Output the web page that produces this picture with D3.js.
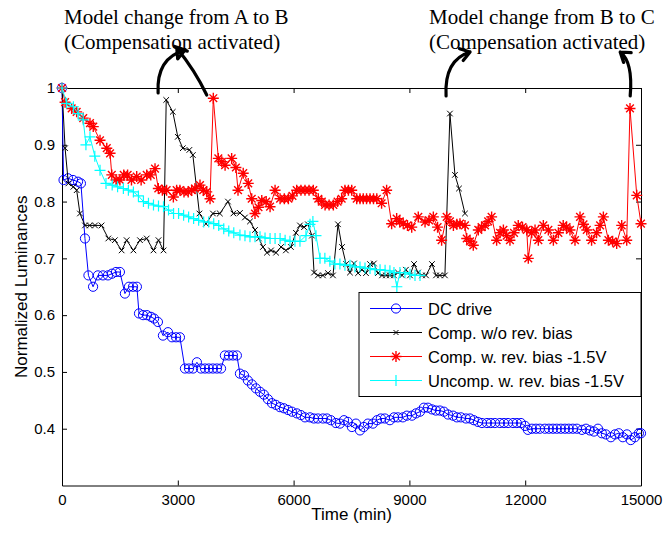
<!DOCTYPE html>
<html>
<head>
<meta charset="utf-8">
<script src="https://cdn.jsdelivr.net/npm/d3@7"></script>
<style>
  body { margin: 0; background: #fff; }
  svg text { font-family: "Liberation Sans", Arial, sans-serif; fill: #000; }
  .note { font-family: "Liberation Serif", "Times New Roman", serif; }
</style>
</head>
<body>
<div id="chart"></div>
<script>
// time (min) and normalized luminance for each series
const dcTime = [0,40,155,285,415,490,595,685,805,930,
  1060,1190,1295,1400,1500,1630,1735,1840,1940,1995,
  2100,2200,2305,2385,2485,2615,2745,2850,2955,3055,
  3185,3290,3395,3495,3600,3705,3805,3910,4015,4120,
  4220,4325,4430,4530,4610,4715,4815,4920,5025,5130,
  5230,5335,5440,5540,5645,5750,5855,5955,6085,6190,
  6295,6425,6525,6630,6760,6865,6965,7095,7200,7305,
  7405,7510,7615,7720,7820,7925,8055,8160,8260,8365,
  8495,8600,8700,8830,8935,9065,9170,9275,9375,9480,
  9585,9685,9790,9895,10000,10130,10230,10335,10465,10570,
  10670,10775,10880,11010,11110,11215,11345,11450,11555,11685,
  11785,11890,11995,12070,12175,12280,12380,12510,12615,12720,
  12820,12925,13030,13130,13235,13340,13470,13575,13675,13780,
  13885,13985,14090,14220,14325,14425,14530,14635,14735,14840,
  14945,15000];
const dcLum = [1.0,0.838,0.841,0.838,0.835,0.832,0.735,0.67,0.65,0.67,
  0.67,0.67,0.673,0.676,0.676,0.638,0.65,0.65,0.65,0.603,
  0.6,0.6,0.597,0.594,0.588,0.564,0.57,0.561,0.561,0.561,
  0.506,0.506,0.506,0.517,0.506,0.506,0.506,0.506,0.506,0.506,
  0.529,0.529,0.529,0.529,0.497,0.494,0.485,0.478,0.471,0.465,
  0.46,0.452,0.445,0.442,0.438,0.436,0.433,0.43,0.427,0.424,
  0.42,0.42,0.418,0.418,0.418,0.418,0.415,0.41,0.409,0.415,
  0.412,0.403,0.409,0.397,0.403,0.409,0.409,0.415,0.418,0.418,
  0.415,0.42,0.42,0.42,0.423,0.423,0.427,0.43,0.437,0.437,
  0.434,0.432,0.432,0.43,0.425,0.423,0.42,0.42,0.418,0.418,
  0.415,0.412,0.41,0.41,0.41,0.41,0.41,0.41,0.41,0.41,
  0.41,0.41,0.405,0.398,0.4,0.4,0.4,0.4,0.4,0.4,
  0.4,0.4,0.4,0.4,0.4,0.4,0.398,0.4,0.397,0.395,
  0.4,0.392,0.39,0.385,0.39,0.392,0.385,0.39,0.38,0.385,
  0.392,0.392];

const compTime = [0,80,165,295,380,465,595,720,855,1025,
  1200,1370,1545,1675,1850,2020,2195,2370,2500,2630,
  2700,2870,3000,3130,3300,3390,3560,3730,3910,4090,
  4300,4440,4610,4740,4870,5000,5100,5205,5310,5415,
  5545,5675,5800,5930,6060,6165,6270,6370,6475,6530,
  6630,6760,6890,7020,7150,7255,7360,7460,7565,7670,
  7770,7875,7980,8080,8185,8290,8395,8495,8600,8705,
  8810,8910,9015,9120,9225,9325,9430,9585,9690,9790,
  9920,10050,10180,10285,10440];
const compLum = [1.0,0.894,0.832,0.826,0.82,0.779,0.758,0.758,0.758,0.758,
  0.735,0.732,0.714,0.732,0.714,0.732,0.735,0.714,0.732,0.714,
  0.979,0.958,0.914,0.894,0.891,0.882,0.779,0.761,0.779,0.779,
  0.8,0.779,0.78,0.772,0.765,0.75,0.735,0.72,0.71,0.714,
  0.71,0.72,0.714,0.72,0.745,0.758,0.755,0.76,0.74,0.675,
  0.67,0.67,0.674,0.67,0.76,0.72,0.69,0.675,0.691,0.674,
  0.68,0.674,0.69,0.691,0.674,0.67,0.67,0.67,0.67,0.675,
  0.67,0.68,0.67,0.69,0.675,0.67,0.67,0.69,0.67,0.67,
  0.67,0.955,0.847,0.823,0.779];

const revTime = [0,80,250,380,550,725,810,985,1160,1245,
  1290,1400,1500,1600,1700,1800,1935,2050,2195,2300,
  2410,2495,2600,2710,2885,2970,3055,3160,3270,3360,
  3445,3575,3660,3750,3835,3920,4050,4140,4225,4395,
  4505,4560,4695,4825,4915,5000,5090,5175,5290,5390,
  5520,5650,5760,5865,5970,6080,6190,6295,6400,6510,
  6640,6730,6815,6920,7030,7140,7245,7330,7420,7505,
  7635,7720,7805,7890,7980,8070,8155,8280,8410,8540,
  8670,8750,8840,8950,9060,9230,9405,9510,9620,9730,
  9835,9965,10050,10140,10230,10310,10440,10485,10570,10655,
  10785,10870,10960,11040,11130,11260,11350,11435,11520,11605,
  11710,11820,11930,12040,12080,12170,12255,12340,12470,12600,
  12730,12860,12985,13070,13160,13290,13420,13510,13595,13720,
  13850,13940,14025,14155,14265,14370,14500,14630,14715,14890,
  15000];
const revLum = [1.0,0.975,0.964,0.958,0.947,0.938,0.932,0.908,0.894,0.885,
  0.847,0.838,0.838,0.847,0.847,0.838,0.844,0.838,0.847,0.847,
  0.858,0.823,0.82,0.82,0.808,0.82,0.82,0.817,0.817,0.82,
  0.823,0.829,0.82,0.817,0.805,0.982,0.876,0.87,0.864,0.876,
  0.86,0.82,0.85,0.832,0.805,0.779,0.79,0.802,0.8,0.791,
  0.82,0.805,0.805,0.805,0.81,0.82,0.82,0.82,0.82,0.82,
  0.805,0.8,0.794,0.794,0.794,0.8,0.805,0.82,0.82,0.82,
  0.805,0.805,0.805,0.805,0.805,0.805,0.805,0.797,0.82,0.761,
  0.77,0.765,0.761,0.758,0.755,0.773,0.764,0.767,0.773,0.755,
  0.732,0.773,0.765,0.758,0.76,0.761,0.758,0.735,0.73,0.723,
  0.75,0.755,0.758,0.765,0.773,0.732,0.745,0.75,0.74,0.732,
  0.745,0.758,0.755,0.75,0.70,0.745,0.75,0.732,0.758,0.75,
  0.732,0.745,0.758,0.755,0.75,0.732,0.773,0.76,0.75,0.732,
  0.745,0.758,0.773,0.732,0.73,0.726,0.758,0.732,0.964,0.811,
  0.761];

const uncompTime = [0,120,295,420,550,620,725,850,985,1140,
  1300,1440,1590,1720,1850,1980,2110,2240,2370,2500,
  2630,2760,2890,3020,3150,3280,3410,3540,3670,3800,
  3930,4060,4190,4320,4450,4610,4740,4870,5000,5130,
  5260,5390,5520,5650,5780,5905,6035,6165,6320,6425,
  6500,6580,6685,6810,6940,7070,7200,7330,7460,7590,
  7720,7850,7980,8110,8240,8370,8495,8600,8675,8755,
  8885,9015,9145,9275];
const uncompLum = [1.0,0.973,0.967,0.955,0.944,0.9,0.914,0.88,0.855,0.832,
  0.829,0.826,0.823,0.82,0.817,0.81,0.8,0.797,0.794,0.792,
  0.791,0.785,0.779,0.779,0.776,0.773,0.77,0.767,0.764,0.764,
  0.761,0.758,0.752,0.748,0.745,0.741,0.74,0.738,0.738,0.738,
  0.736,0.735,0.735,0.735,0.732,0.73,0.73,0.73,0.74,0.76,
  0.765,0.74,0.70,0.7,0.695,0.69,0.69,0.688,0.688,0.685,
  0.685,0.683,0.682,0.68,0.68,0.679,0.678,0.675,0.65,0.675,
  0.675,0.672,0.67,0.67];

const seriesNames = ["DC drive", "Comp. w/o rev. bias", "Comp. w. rev. bias -1.5V", "Uncomp. w. rev. bias -1.5V"];
const xTicks = [0, 3000, 6000, 9000, 12000, 15000];
const yTicks = [0.4, 0.5, 0.6, 0.7, 0.8, 0.9, 1];
const notes = [
  ["Model change from A to B", "(Compensation activated)"],
  ["Model change from B to C", "(Compensation activated)"]
];
// times where the hand-drawn arrows start, first note gets two arrows
const arrowTimes = [2490, 3750, 9950, 14720];

const W = 664, H = 533;
const margin = { top: 88, right: 23, bottom: 47.5, left: 62 };

const svg = d3.select("#chart").append("svg")
  .attr("width", W).attr("height", H);

const x = d3.scaleLinear().domain([0, 15000]).range([margin.left, W - margin.right]);
const y = d3.scaleLinear().domain([0.3, 1]).range([H - margin.bottom, margin.top]);

// axes, MATLAB style: ticks inside, box on all sides
svg.append("g")
  .attr("transform", `translate(0,${y(0.3)})`)
  .call(d3.axisBottom(x).tickValues(xTicks).tickFormat(d3.format("d"))
    .tickSizeInner(-5).tickSizeOuter(0).tickPadding(9))
  .call(g => g.selectAll("text").style("font-size", "15px"));
svg.append("g")
  .attr("transform", `translate(0,${y(1)})`)
  .call(d3.axisTop(x).tickValues(xTicks).tickFormat("")
    .tickSizeInner(-5).tickSizeOuter(0));
svg.append("g")
  .attr("transform", `translate(${x(0)},0)`)
  .call(d3.axisLeft(y).tickValues(yTicks).tickFormat(d => d === 1 ? "1" : d3.format(".1f")(d))
    .tickSizeInner(-5).tickSizeOuter(0).tickPadding(7))
  .call(g => g.selectAll("text").style("font-size", "15px"));
svg.append("g")
  .attr("transform", `translate(${x(15000)},0)`)
  .call(d3.axisRight(y).tickValues(yTicks).tickFormat("")
    .tickSizeInner(-5).tickSizeOuter(0));
svg.selectAll(".domain").attr("stroke", "#000");
svg.selectAll(".tick line").attr("stroke", "#000");

svg.append("text")
  .attr("x", (x(0) + x(15000)) / 2).attr("y", 520)
  .attr("text-anchor", "middle").style("font-size", "17px")
  .text("Time (min)");
svg.append("text")
  .attr("transform", `translate(27,${(y(0.3) + y(1)) / 2}) rotate(-90)`)
  .attr("text-anchor", "middle").style("font-size", "17px")
  .text("Normalized Luminances");

// marker shapes
const mk = {
  circle: s => `M${-s},0A${s},${s} 0 1,0 ${s},0A${s},${s} 0 1,0 ${-s},0Z`,
  cross: s => `M${-s},${-s}L${s},${s}M${-s},${s}L${s},${-s}`,
  plus: s => `M${-s},0L${s},0M0,${-s}L0,${s}`,
  star: s => { const d = s * 0.7; return `M${-s},0L${s},0M0,${-s}L0,${s}M${-d},${-d}L${d},${d}M${-d},${d}L${d},${-d}`; }
};

const series = [
  { name: seriesNames[0], t: dcTime, v: dcLum, color: "#0000ff", shape: "circle", size: 4.6, sw: 1 },
  { name: seriesNames[1], t: compTime, v: compLum, color: "#000000", shape: "cross", size: 2.8, sw: 1 },
  { name: seriesNames[2], t: revTime, v: revLum, color: "#ff0000", shape: "star", size: 5.5, sw: 1.4 },
  { name: seriesNames[3], t: uncompTime, v: uncompLum, color: "#00ffff", shape: "plus", size: 5.5, sw: 1.2 }
];

const line = d3.line().x(d => x(d[0])).y(d => y(d[1]));

series.forEach(s => {
  const pts = s.t.map((t, i) => [t, s.v[i]]);
  const g = svg.append("g");
  g.append("path").datum(pts)
    .attr("d", line).attr("fill", "none")
    .attr("stroke", s.color).attr("stroke-width", 1);
  g.selectAll("path.m").data(pts).enter().append("path")
    .attr("class", "m")
    .attr("transform", d => `translate(${x(d[0])},${y(d[1])})`)
    .attr("d", mk[s.shape](s.size))
    .attr("fill", "none").attr("stroke", s.color).attr("stroke-width", s.sw);
});

// legend
const lg = svg.append("g").attr("transform", "translate(359,292.5)");
lg.append("rect").attr("width", 282).attr("height", 104)
  .attr("fill", "#fff").attr("stroke", "#000").attr("stroke-width", 1);
series.forEach((s, i) => {
  const yy = 16 + i * 24;
  lg.append("line").attr("x1", 11).attr("x2", 63).attr("y1", yy).attr("y2", yy)
    .attr("stroke", s.color).attr("stroke-width", 1);
  lg.append("path").attr("transform", `translate(37,${yy})`)
    .attr("d", mk[s.shape](s.shape === "cross" ? 2.5 : s.size))
    .attr("fill", "none").attr("stroke", s.color).attr("stroke-width", s.sw);
  lg.append("text").attr("x", 69).attr("y", yy + 6)
    .style("font-size", "16.5px").text(s.name);
});

// annotations
notes.forEach((n, i) => {
  const tx = i === 0 ? 64 : 429;
  const t = svg.append("text").attr("class", "note").style("font-size", "21px");
  t.append("tspan").attr("x", tx).attr("y", 24).text(n[0]);
  t.append("tspan").attr("x", tx).attr("y", 49).text(n[1]);
});

function arrow(x0, y0, cx, cy, x1, y1) {
  const p = d3.path();
  p.moveTo(x0, y0);
  p.quadraticCurveTo(cx, cy, x1, y1);
  const a = Math.atan2(y1 - cy, x1 - cx);
  const L = 11, sp = 0.6;
  p.moveTo(x1 - L * Math.cos(a - sp), y1 - L * Math.sin(a - sp));
  p.lineTo(x1, y1);
  p.lineTo(x1 - L * Math.cos(a + sp), y1 - L * Math.sin(a + sp));
  svg.append("path").attr("d", p.toString())
    .attr("fill", "none").attr("stroke", "#000")
    .attr("stroke-width", 3.2).attr("stroke-linecap", "round").attr("stroke-linejoin", "round");
}
const ab = y(1) + 5;
arrow(x(arrowTimes[0]), ab, x(arrowTimes[0]) - 2, 58, x(arrowTimes[0]) + 27, 50);
arrow(x(arrowTimes[1]), ab + 2, x(arrowTimes[1]) - 12, 70, x(arrowTimes[1]) - 30, 48);
arrow(x(arrowTimes[2]), ab + 3, x(arrowTimes[2]) - 2, 60, x(arrowTimes[2]) + 24, 52);
arrow(x(arrowTimes[3]), ab + 3, x(arrowTimes[3]) + 3, 62, x(arrowTimes[3]) - 10, 52);
</script>
</body>
</html>
